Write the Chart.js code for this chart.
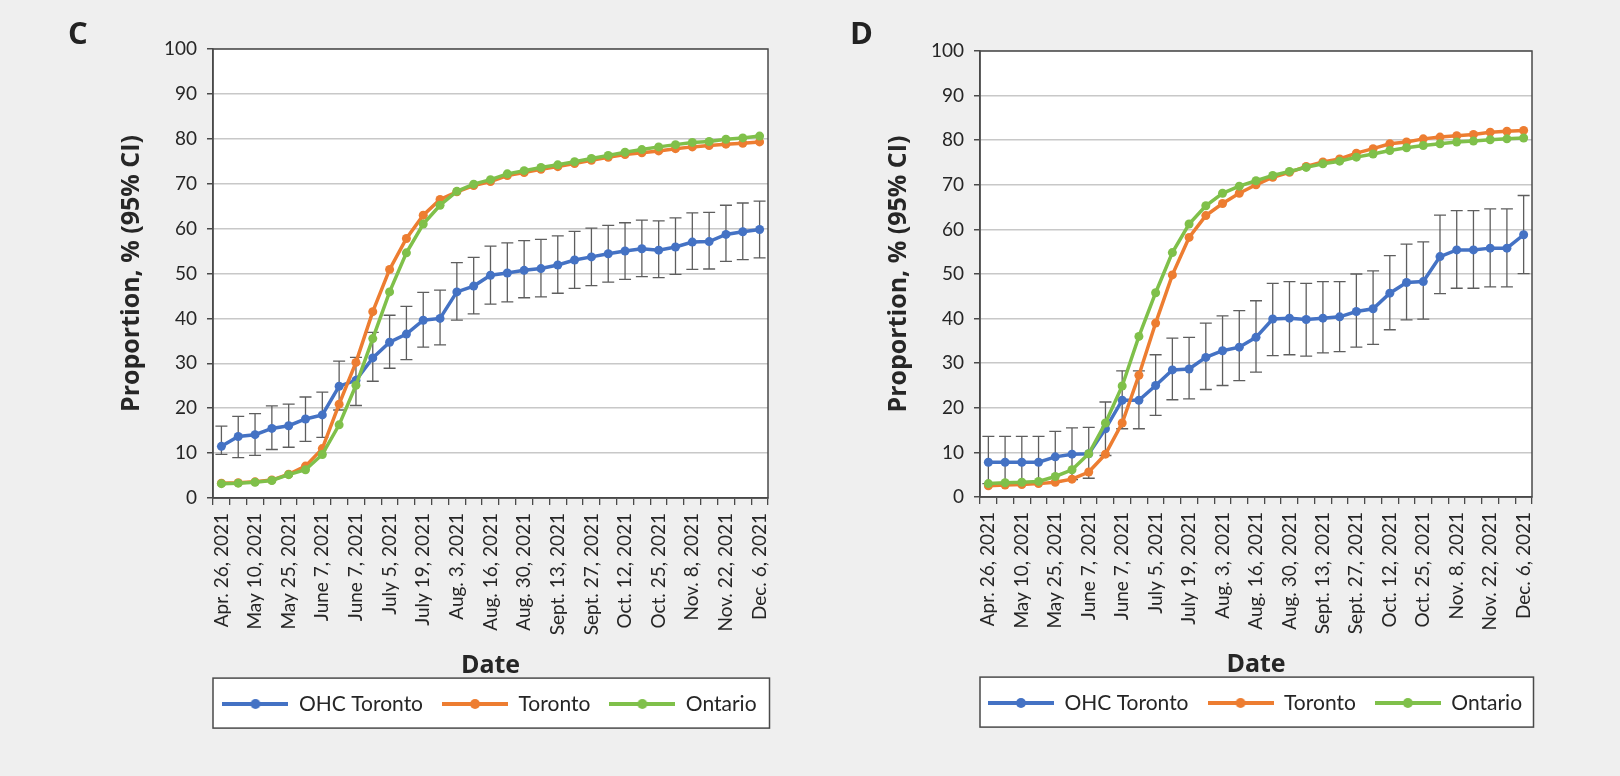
<!DOCTYPE html>
<html>
<head>
<meta charset="utf-8">
<script src="https://cdn.jsdelivr.net/npm/chart.js@4/dist/chart.umd.min.js"></script>
<style>
  body { margin: 0; background: #efefef; width: 1620px; height: 776px; overflow: hidden; position: relative; }
  .panel { position: absolute; top: 0; height: 776px; }
  .tag { position: absolute; font: bold 31px 'Open Sans', sans-serif; color: #222; }
</style>
</head>
<body>
<div class="panel" style="left:0;width:800px"><canvas id="chartC"></canvas></div>
<div class="panel" style="left:800px;width:820px"><canvas id="chartD"></canvas></div>
<div class="tag" style="left:68px;top:11px">C</div>
<div class="tag" style="left:850px;top:11px">D</div>
<script>
// weekly dates, one per point
const weeks = ['Apr. 26', 'May 3', 'May 10', 'May 17', 'May 25', 'May 31', 'June 7', 'June 14', 'June 21',
  'June 28', 'July 5', 'July 12', 'July 19', 'July 26', 'Aug. 3', 'Aug. 9', 'Aug. 16', 'Aug. 23', 'Aug. 30',
  'Sept. 6', 'Sept. 13', 'Sept. 20', 'Sept. 27', 'Oct. 4', 'Oct. 12', 'Oct. 18', 'Oct. 25', 'Nov. 1', 'Nov. 8',
  'Nov. 15', 'Nov. 22', 'Nov. 29', 'Dec. 6'];
// labels printed under every second week (as in the figure)
const tickLabels = ['Apr. 26, 2021', 'May 10, 2021', 'May 25, 2021', 'June 7, 2021', 'June 7, 2021', 'July 5, 2021',
  'July 19, 2021', 'Aug. 3, 2021', 'Aug. 16, 2021', 'Aug. 30, 2021', 'Sept. 13, 2021', 'Sept. 27, 2021',
  'Oct. 12, 2021', 'Oct. 25, 2021', 'Nov. 8, 2021', 'Nov. 22, 2021', 'Dec. 6, 2021'];
const seriesNames = ['OHC Toronto', 'Toronto', 'Ontario'];

// Panel C
const ohcC = [11.5, 13.7, 14.1, 15.5, 16.1, 17.6, 18.5, 24.9, 26.2, 31.2, 34.7, 36.5, 39.6, 40.0, 45.9, 47.2, 49.6,
  50.1, 50.7, 51.1, 51.9, 53.0, 53.7, 54.4, 55.0, 55.5, 55.2, 55.9, 57.0, 57.1, 58.7, 59.3, 59.8];
const ohcCLow = [9.7, 9.0, 9.5, 10.8, 11.3, 12.6, 13.5, 19.6, 20.6, 26.0, 28.9, 30.8, 33.6, 34.1, 39.6, 41.0, 43.2,
  43.7, 44.6, 44.8, 45.6, 46.7, 47.3, 48.1, 48.7, 49.3, 49.1, 49.8, 50.9, 51.0, 52.7, 53.1, 53.5];
const ohcCHigh = [16.0, 18.2, 18.8, 20.5, 20.9, 22.5, 23.6, 30.5, 31.3, 36.9, 40.7, 42.7, 45.8, 46.3, 52.4, 53.6, 56.1,
  56.8, 57.3, 57.6, 58.4, 59.4, 60.1, 60.7, 61.3, 61.9, 61.7, 62.4, 63.5, 63.6, 65.2, 65.7, 66.1];
const torC = [3.3, 3.4, 3.6, 4.0, 5.3, 7.1, 11.0, 20.9, 30.2, 41.5, 50.9, 57.8, 63.0, 66.5, 68.2, 69.6, 70.5, 71.8,
  72.5, 73.2, 73.8, 74.5, 75.2, 75.9, 76.5, 76.9, 77.3, 77.8, 78.2, 78.5, 78.8, 79.0, 79.3];
const ontC = [3.2, 3.3, 3.5, 3.9, 5.2, 6.3, 9.7, 16.3, 25.1, 35.5, 45.9, 54.6, 61.0, 65.2, 68.3, 69.9, 70.9, 72.2,
  72.9, 73.6, 74.2, 74.9, 75.6, 76.3, 77.0, 77.6, 78.2, 78.7, 79.2, 79.4, 79.9, 80.2, 80.6];

// Panel D
const ohcD = [7.8, 7.8, 7.8, 7.8, 9.0, 9.6, 9.7, 15.3, 21.7, 21.7, 25.0, 28.5, 28.7, 31.3, 32.8, 33.6, 35.8, 39.9,
  40.1, 39.8, 40.1, 40.4, 41.6, 42.2, 45.7, 48.1, 48.3, 53.9, 55.4, 55.4, 55.8, 55.8, 58.8];
const ohcDLow = [3.0, 3.0, 3.0, 3.0, 3.3, 3.9, 4.2, 9.3, 15.3, 15.3, 18.3, 21.8, 22.0, 24.1, 25.0, 26.1, 28.0, 31.7,
  31.9, 31.6, 32.3, 32.6, 33.6, 34.2, 37.5, 39.7, 39.9, 45.6, 46.8, 46.8, 47.1, 47.1, 50.1];
const ohcDHigh = [13.6, 13.6, 13.6, 13.6, 14.7, 15.5, 15.6, 21.3, 28.3, 28.3, 31.9, 35.6, 35.8, 39.0, 40.6, 41.8, 44.0,
  47.9, 48.3, 47.9, 48.3, 48.3, 50.0, 50.7, 54.1, 56.7, 57.2, 63.2, 64.2, 64.2, 64.6, 64.6, 67.6];
const torD = [2.5, 2.7, 2.8, 3.0, 3.3, 4.0, 5.6, 9.6, 16.6, 27.3, 39.0, 49.8, 58.2, 63.1, 65.8, 68.1, 70.0, 71.7,
  72.8, 74.1, 75.1, 75.8, 77.1, 78.1, 79.2, 79.6, 80.3, 80.7, 81.0, 81.3, 81.8, 82.0, 82.2];
const ontD = [3.0, 3.2, 3.3, 3.5, 4.6, 6.1, 9.7, 16.6, 24.9, 36.0, 45.8, 54.8, 61.2, 65.3, 68.1, 69.7, 70.9, 72.1,
  73.0, 73.9, 74.7, 75.3, 76.2, 76.9, 77.7, 78.3, 78.8, 79.2, 79.6, 79.8, 80.1, 80.3, 80.5];

const colors = ['#4472c4', '#ed7d31', '#7fc04a'];
const textColor = '#262626';
const axisColor = '#4a4a4a';
const tickFont = { family: 'Lato', size: 19 };
const titleFont = { family: 'Open Sans', size: 25, weight: 'bold' };
const legendPad = 19;

// small line + dot icon for the legend
function legendIcon(color) {
  const c = document.createElement('canvas');
  c.width = 66; c.height = 12;
  const g = c.getContext('2d');
  g.strokeStyle = color; g.lineWidth = 4;
  g.beginPath(); g.moveTo(0, 6); g.lineTo(66, 6); g.stroke();
  g.fillStyle = color;
  g.beginPath(); g.arc(33, 6, 5, 0, Math.PI * 2); g.fill();
  return c;
}

function errorBarsPlugin(low, high) {
  return {
    id: 'errorBars',
    beforeDatasetsDraw(chart) {
      const { x, y } = chart.scales;
      const ctx = chart.ctx;
      ctx.save();
      ctx.strokeStyle = '#5e5e5e';
      ctx.lineWidth = 1.3;
      low.forEach((lo, i) => {
        const px = x.getPixelForValue(i);
        const y1 = y.getPixelForValue(lo);
        const y2 = y.getPixelForValue(high[i]);
        ctx.beginPath();
        ctx.moveTo(px, y1); ctx.lineTo(px, y2);
        ctx.moveTo(px - 6, y1); ctx.lineTo(px + 6, y1);
        ctx.moveTo(px - 6, y2); ctx.lineTo(px + 6, y2);
        ctx.stroke();
      });
      ctx.restore();
    }
  };
}

// white plot area, frame, and the boxed legend
const framePlugin = {
  id: 'frame',
  afterLayout(chart) {
    // centre the legend row under the plot
    const a = chart.chartArea, lg = chart.legend;
    lg.left = a.left - 101; lg.right = a.right + 99; lg.width = lg.right - lg.left;
  },
  beforeDraw(chart) {
    const a = chart.chartArea, ctx = chart.ctx, lg = chart.legend;
    const boxTop = lg.top + legendPad + 9.6 - 25;
    ctx.save();
    ctx.fillStyle = '#fff';
    ctx.fillRect(a.left, a.top, a.width, a.height);
    ctx.fillRect(a.left, boxTop, a.width + 1.5, 50);
    ctx.strokeStyle = axisColor; ctx.lineWidth = 1.5;
    ctx.strokeRect(a.left, boxTop, a.width + 1.5, 50);
    ctx.restore();
  },
  afterDraw(chart) {
    const a = chart.chartArea, ctx = chart.ctx;
    ctx.save();
    ctx.strokeStyle = axisColor; ctx.lineWidth = 1.5;
    ctx.strokeRect(a.left, a.top, a.width, a.height);
    ctx.restore();
  }
};

function makeChart(id, ohc, low, high, tor, ont, pad) {
  const series = [ohc, tor, ont];
  return new Chart(document.getElementById(id), {
    type: 'line',
    data: {
      labels: weeks,
      datasets: series.map((d, i) => ({
        label: seriesNames[i],
        data: d,
        borderColor: colors[i],
        backgroundColor: colors[i],
        borderWidth: 3.5,
        pointRadius: 4.5,
        pointBorderWidth: 0,
        pointBackgroundColor: colors[i],
        tension: 0,
        order: 2 - i
      }))
    },
    options: {
      responsive: true,
      maintainAspectRatio: false,
      animation: false,
      layout: { padding: pad },
      plugins: {
        legend: {
          position: 'bottom',
          labels: {
            usePointStyle: true,
            pointStyleWidth: 66,
            padding: legendPad,
            color: textColor,
            font: { family: 'Lato', size: 21 },
            generateLabels: chart => chart.data.datasets.map((ds, i) => ({
              text: ds.label,
              pointStyle: legendIcon(ds.borderColor),
              fillStyle: ds.borderColor,
              strokeStyle: ds.borderColor,
              lineWidth: 0,
              fontColor: textColor,
              hidden: false,
              datasetIndex: i
            }))
          }
        },
        tooltip: { enabled: false }
      },
      scales: {
        x: {
          offset: true,
          grid: { drawOnChartArea: false, drawTicks: true, tickLength: 7, color: axisColor, offset: true, lineWidth: 1.3 },
          border: { display: true, color: axisColor, width: 1.5 },
          ticks: {
            autoSkip: false, minRotation: 90, maxRotation: 90, padding: 8, color: textColor, font: tickFont,
            callback: (v, i) => (i % 2 === 0 ? tickLabels[i / 2] : '')
          },
          title: { display: true, text: 'Date', color: textColor, font: titleFont, padding: { top: 0, bottom: -6 } },
          afterFit: s => { s.height = 176.5; s.paddingLeft = 0; s.paddingRight = 0; }
        },
        y: {
          min: 0, max: 100,
          ticks: { stepSize: 10, padding: 10, color: textColor, font: tickFont },
          grid: { color: '#c8c8c8', lineWidth: 1.5, tickLength: 6, tickColor: axisColor },
          border: { display: true, color: axisColor, width: 1.5 },
          title: { display: true, text: 'Proportion, % (95% CI)', color: textColor, font: titleFont, padding: 0 },
          afterFit: s => { s.width = 96; s.paddingTop = 0; s.paddingBottom = 0; }
        }
      }
    },
    plugins: [errorBarsPlugin(low, high), framePlugin]
  });
}

makeChart('chartC', ohcC, ohcCLow, ohcCHigh, torC, ontC, { left: 117, right: 32, top: 49, bottom: 51.5 });
makeChart('chartD', ohcD, ohcDLow, ohcDHigh, torD, ontD, { left: 84, right: 88, top: 51, bottom: 52.5 });
</script>
</body>
</html>
